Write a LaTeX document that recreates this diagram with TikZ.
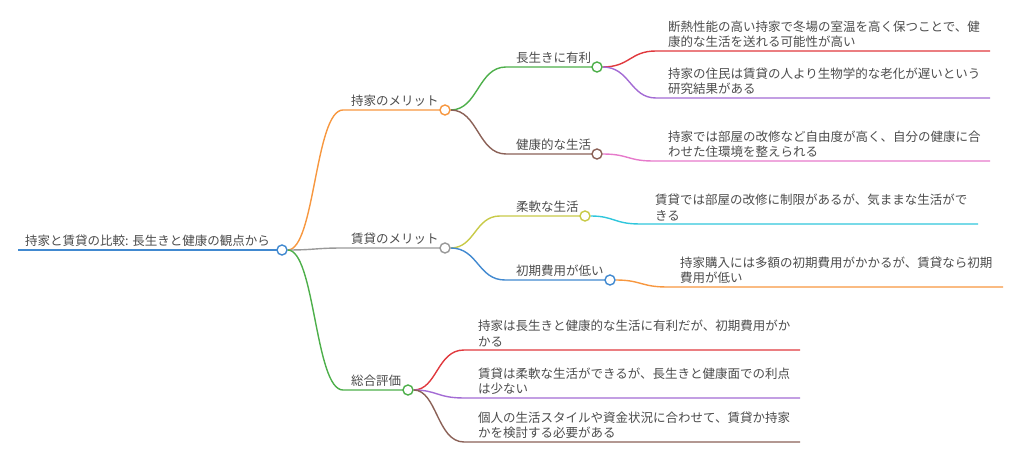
\documentclass[tikz,border=0pt]{standalone}
\usepackage{fontspec}
\setmainfont{Noto Sans CJK JP}
\pgfdeclarelayer{bg}
\pgfsetlayers{bg,main}
\definecolor{cblue}{HTML}{4189D0}
\definecolor{corange}{HTML}{F7973F}
\definecolor{cgreen}{HTML}{4DAF4A}
\definecolor{cgray}{HTML}{999999}
\definecolor{cred}{HTML}{E0393E}
\definecolor{cpurple}{HTML}{A36BD4}
\definecolor{cbrown}{HTML}{8B6157}
\definecolor{cpink}{HTML}{E67ACB}
\definecolor{cyellow}{HTML}{C8CA48}
\definecolor{ccyan}{HTML}{2FC6DC}
\definecolor{ctext}{HTML}{4C4C4C}
\tikzset{
  txt/.style={font=\fontsize{12.5}{15.5}\selectfont, text=ctext, inner sep=0pt, anchor=south west, align=left},
  dot/.style={circle, draw=#1, fill=white, line width=1.4pt, minimum size=10pt, inner sep=0pt},
  link/.style={draw=#1, line width=1.4pt},
}
\begin{document}
\begin{tikzpicture}[x=1pt,y=-1pt]
\useasboundingbox (0,0) rectangle (1010,454);

% root
\node[dot=cblue] (r) at (282,250) {};
\coordinate (r0) at (18,250);
\node[txt] (rt) at (25,247) {持家と賃貸の比較: 長生きと健康の観点から};

% level 1
\node[dot=corange] (a) at (445,110) {};
\coordinate (ah) at (343,110);
\node[txt] (at) at (351,107) {持家のメリット};

\node[dot=cgray] (b) at (445,248) {};
\coordinate (bh) at (343,248);
\node[txt] (bt) at (351,245) {賃貸のメリット};

\node[dot=cgreen] (c) at (408,390) {};
\coordinate (ch) at (343,390);
\node[txt] (ct) at (351,387) {総合評価};

% level 2
\node[dot=cgreen] (a1) at (597,67) {};
\coordinate (a1h) at (506,67);
\node[txt] (a1t) at (516,64) {長生きに有利};

\node[dot=cbrown] (a2) at (597,154) {};
\coordinate (a2h) at (506,154);
\node[txt] (a2t) at (516,151) {健康的な生活};

\node[dot=cyellow] (b1) at (585,216) {};
\coordinate (b1h) at (500,216);
\node[txt] (b1t) at (516,213) {柔軟な生活};

\node[dot=cblue] (b2) at (610,280) {};
\coordinate (b2h) at (505,280);
\node[txt] (b2t) at (516,277) {初期費用が低い};

% level 3
\coordinate (a11h) at (656,51);  \coordinate (a11e) at (990,51);
\node[txt] (a11t) at (668,48) {断熱性能の高い持家で冬場の室温を高く保つことで、健\\康的な生活を送れる可能性が高い};
\coordinate (a12h) at (656,98);  \coordinate (a12e) at (990,98);
\node[txt] (a12t) at (668,95) {持家の住民は賃貸の人より生物学的な老化が遅いという\\研究結果がある};
\coordinate (a21h) at (653,161); \coordinate (a21e) at (990,161);
\node[txt] (a21t) at (668,158) {持家では部屋の改修など自由度が高く、自分の健康に合\\わせた住環境を整えられる};
\coordinate (b11h) at (640,224); \coordinate (b11e) at (978,224);
\node[txt] (b11t) at (655,221) {賃貸では部屋の改修に制限があるが、気ままな生活がで\\きる};
\coordinate (b21h) at (667,287); \coordinate (b21e) at (1003,287);
\node[txt] (b21t) at (680,284) {持家購入には多額の初期費用がかかるが、賃貸なら初期\\費用が低い};
\coordinate (c1h) at (464,350); \coordinate (c1e) at (800,350);
\node[txt] (c1t) at (478,347) {持家は長生きと健康的な生活に有利だが、初期費用がか\\かる};
\coordinate (c2h) at (464,398); \coordinate (c2e) at (800,398);
\node[txt] (c2t) at (478,395) {賃貸は柔軟な生活ができるが、長生きと健康面での利点\\は少ない};
\coordinate (c3h) at (464,442); \coordinate (c3e) at (800,442);
\node[txt] (c3t) at (478,439) {個人の生活スタイルや資金状況に合わせて、賃貸か持家\\かを検討する必要がある};

\begin{pgfonlayer}{bg}
\draw[link=cblue] (r0) -- (r.center);
\draw[link=corange] (r.east) .. controls (315,250) and (315,110) .. (ah) -- (a.center);
\draw[link=cgray] (r.east) .. controls (315,250) and (315,248) .. (bh) -- (b.center);
\draw[link=cgreen] (r.east) .. controls (315,250) and (315,390) .. (ch) -- (c.center);

\draw[link=cgreen] (a.east) .. controls (478,110) and (478,67) .. (a1h) -- (a1.center);
\draw[link=cbrown] (a.east) .. controls (478,110) and (478,154) .. (a2h) -- (a2.center);
\draw[link=cyellow] (b.east) .. controls (475,248) and (475,216) .. (b1h) -- (b1.center);
\draw[link=cblue] (b.east) .. controls (478,248) and (478,280) .. (b2h) -- (b2.center);

\draw[link=cred] (a1.east) .. controls (630,67) and (630,51) .. (a11h) -- (a11e);
\draw[link=cpurple] (a1.east) .. controls (630,67) and (630,98) .. (a12h) -- (a12e);
\draw[link=cpink] (a2.east) .. controls (628,154) and (628,161) .. (a21h) -- (a21e);
\draw[link=ccyan] (b1.east) .. controls (614,216) and (614,224) .. (b11h) -- (b11e);
\draw[link=corange] (b2.east) .. controls (641,280) and (641,287) .. (b21h) -- (b21e);
\draw[link=cred] (c.east) .. controls (437,390) and (437,350) .. (c1h) -- (c1e);
\draw[link=cpurple] (c.east) .. controls (437,390) and (437,398) .. (c2h) -- (c2e);
\draw[link=cbrown] (c.east) .. controls (437,390) and (437,442) .. (c3h) -- (c3e);
\end{pgfonlayer}
\end{tikzpicture}
\end{document}
